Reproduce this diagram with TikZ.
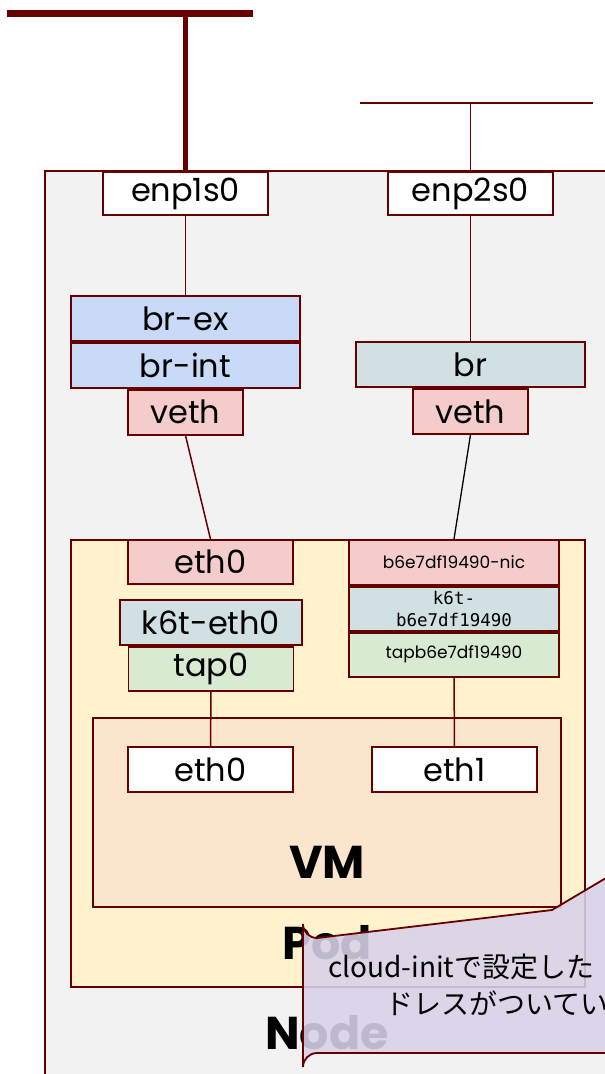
\documentclass[tikz,border=0pt]{standalone}
\usepackage{fontspec}
\setmainfont{Poppins}
\newfontfamily\jpfont{Noto Sans CJK JP}
\newfontfamily\codefont{DejaVu Sans Mono}
\usetikzlibrary{positioning}
\definecolor{wire}{HTML}{660000}
\definecolor{nodebg}{HTML}{F2F2F2}
\definecolor{podbg}{HTML}{FFF2CC}
\definecolor{vmbg}{HTML}{FCE5CD}
\definecolor{ovsblue}{HTML}{C9DAF8}
\definecolor{brgray}{HTML}{D0E0E3}
\definecolor{vethpink}{HTML}{F4CCCC}
\definecolor{tapgreen}{HTML}{D9EAD3}
\definecolor{notebg}{HTML}{D9D2E9}
\tikzset{
  iface/.style={draw=wire, line width=1.8pt, inner sep=0pt, minimum height=45pt,
    font=\fontsize{32}{36}\selectfont},
  smallif/.style={iface, minimum width=210pt, minimum height=44pt,
    font=\fontsize{17}{20}\selectfont},
  area/.style={draw=wire, line width=1.8pt},
  link/.style={wire, line width=1.5pt},
  biglabel/.style={font=\bfseries\fontsize{46}{50}\selectfont}
}
\begin{document}
\begin{tikzpicture}[x=1pt, y=-1pt]
  \useasboundingbox (0,0) rectangle (605,1074);
  \clip (0,0) rectangle (605,1074);
  % host and pod areas
  \draw[area, fill=nodebg, line width=1.4pt] (45,171) rectangle (640,1100);
  \draw[area, fill=podbg] (71,540) rectangle (585,987);
  \draw[area, fill=vmbg] (93,718) rectangle (561,907);
  % uplinks
  \coordinate (wanL) at (7,13);
  \coordinate (wanR) at (253,13);
  \coordinate (lanL) at (360,103);
  \coordinate (lanR) at (593,103);
  \draw[wire, line width=7pt] (wanL) -- (wanR);
  \draw[wire, line width=2pt] (lanL) -- (lanR);
  % host interfaces
  \node[iface, fill=white, minimum width=165pt, minimum height=43pt] (enp1s0) at (185.5,193.5) {enp1s0};
  \node[iface, fill=white, minimum width=165pt, minimum height=43pt] (enp2s0) at (470.5,193.5) {enp2s0};
  \draw[wire, line width=5.5pt] (enp1s0.north |- wanL) -- (enp1s0.north);
  \draw[link] (enp2s0.north |- lanL) -- (enp2s0.north);
  \node[iface, fill=ovsblue, minimum width=229pt] (brex) at (185.5,318.5) {br-ex};
  \node[iface, fill=ovsblue, minimum width=229pt, below=0pt of brex] (brint) {br-int};
  \node[iface, fill=vethpink, minimum width=115pt, below=0pt of brint] (vethL) {veth};
  \node[iface, fill=brgray, minimum width=229pt] (br) at (470.5,364.5) {br};
  \node[iface, fill=vethpink, minimum width=115pt, below=0pt of br] (vethR) {veth};
  % pod interfaces
  \node[iface, fill=vethpink, minimum width=165pt, minimum height=44pt] (podeth0) at (210.5,562) {eth0};
  \node[iface, fill=brgray, minimum width=182pt] (k6teth0) at (211,622.5) {k6t-eth0};
  \node[iface, fill=tapgreen, minimum width=165pt, minimum height=44pt, below=0pt of k6teth0] (tap0) {tap0};
  \node[smallif, fill=vethpink, minimum height=45pt] (nic) at (454,562.5) {b6e7df19490-nic};
  \node[smallif, fill=brgray, below=0pt of nic, align=center,
    font=\codefont\fontsize{17.5}{22}\selectfont] (k6tnic) {k6t-\\b6e7df19490};
  \node[smallif, fill=tapgreen, below=0pt of k6tnic] (tapnic) {tapb6e7df19490};
  % vm interfaces
  \node[iface, fill=white, minimum width=165pt] (vmeth0) at (210.5,769.5) {eth0};
  \node[iface, fill=white, minimum width=165pt] (vmeth1) at (454.5,769.5) {eth1};
  % links
  \draw[link] (enp1s0) -- (brex);
  \draw[link] (enp2s0) -- (br);
  \draw[link] (vethL.south) -- (podeth0.north);
  \draw[black, line width=1.3pt] (vethR.south) -- (nic.north);
  \draw[link] (tap0) -- (vmeth0);
  \draw[link] (tapnic) -- (vmeth1);
  % area labels
  \node[biglabel] (vmlabel) at (327,862) {VM};
  \node[biglabel] (podlabel) at (327,943) {Pod};
  \node[biglabel] (nodelabel) at (327,1033) {Node};
  % note
  \filldraw[draw=wire, line width=1.8pt, fill=notebg, fill opacity=0.88]
    (552,910) -- (660,846) -- (660,1053) -- (317,1053)
    arc[start angle=270, end angle=180, radius=14] -- (303,924)
    arc[start angle=180, end angle=90, radius=14] -- cycle;
  \node[anchor=west, inner sep=0pt, font=\jpfont\fontsize{28}{32}\selectfont] (note1) at (328,967) {cloud-initで設定した};
  \node[anchor=west, inner sep=0pt, font=\jpfont\fontsize{28}{32}\selectfont] (note2) at (385,1003) {ドレスがついてい};
\end{tikzpicture}
\end{document}
